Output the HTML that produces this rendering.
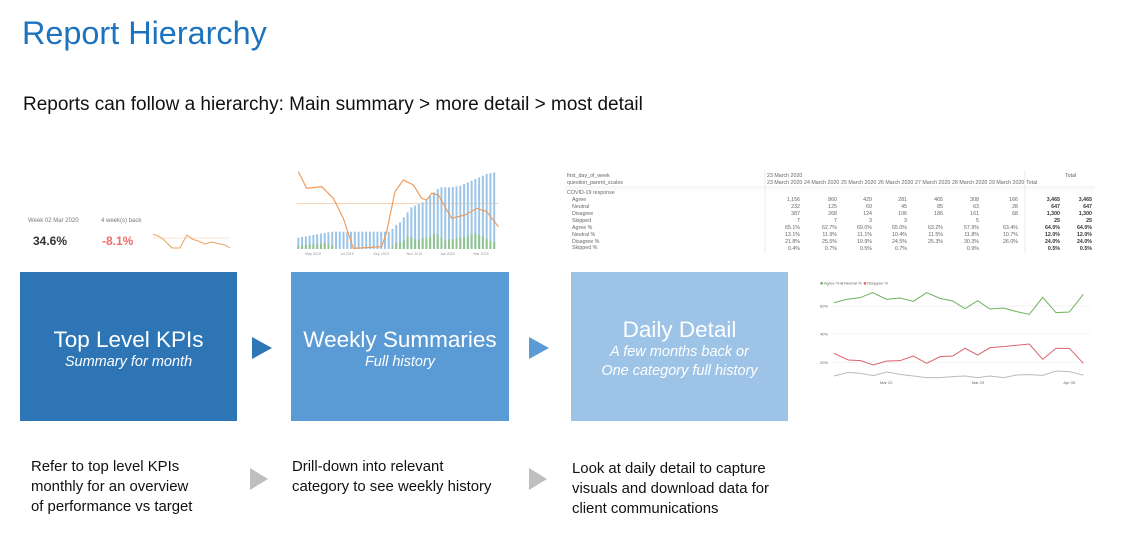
<!DOCTYPE html>
<html><head><meta charset="utf-8"><style>
body{margin:0;width:1127px;height:545px;background:#fff;position:relative;overflow:hidden;font-family:"Liberation Sans",sans-serif}
.a{position:absolute;white-space:nowrap}
.box{position:absolute;color:#fff;text-align:center;display:flex;flex-direction:column;justify-content:center;box-sizing:border-box;padding-top:5px}
.box b{font-weight:normal;font-size:22.5px}
.box i{font-size:14.5px;line-height:19px}
.t{position:absolute;font-size:5.3px;color:#666;white-space:nowrap}
.desc{position:absolute;font-size:14.9px;line-height:20px;color:#111}
</style></head><body>
<div class="a" style="left:22px;top:15px;font-size:32.4px;color:#1e73be">Report Hierarchy</div>
<div class="a" style="left:23px;top:94px;font-size:19px;color:#111">Reports can follow a hierarchy: Main summary &gt; more detail &gt; most detail</div>

<div class="a" style="left:28px;top:218px;font-size:6px;color:#777">Week 02 Mar 2020</div>
<div class="a" style="left:33px;top:234px;font-size:12px;font-weight:bold;color:#333">34.6%</div>
<div class="a" style="left:101px;top:218px;font-size:6px;color:#777">4 week(s) back</div>
<div class="a" style="left:102px;top:234px;font-size:12px;font-weight:bold;color:#f06a6a">-8.1%</div>
<svg class="a" style="left:150px;top:230px" width="85" height="22"><line x1="3" y1="8" x2="80" y2="8" stroke="#f5c9a0" stroke-width=".6"/><polyline fill="none" stroke="#e9a25f" stroke-width="1" points="3,4 8,6 13,9 18,14 22,18 30,18 33,12 37,5 42,9 48,11 55,14 62,12 70,14 75,15 80,18"/></svg>

<svg class="a" style="left:285px;top:165px" width="225" height="95" viewBox="0 0 675 285">
<line x1="35" y1="115" x2="640" y2="115" stroke="#f2b98a" stroke-width="2"/>
<g id="bars"></g>
<polyline fill="none" stroke="#ef9a5a" stroke-width="3.5" points="40,20 65,70 110,65 145,100 175,160 205,250 290,245 305,200 330,80 355,45 385,60 410,100 425,105 440,85 460,90 500,160 540,150 575,130 605,140 640,185"/>
<g font-size="11" fill="#999"><text x="60" y="270">May 2019</text><text x="165" y="270">Jul 2019</text><text x="265" y="270">Sep 2019</text><text x="365" y="270">Nov 2019</text><text x="465" y="270">Jan 2020</text><text x="565" y="270">Mar 2020</text></g>
</svg>
<script>
(function(){var g=document.getElementById('bars'),s='';
var b=[34,36,38,40,42,44,46,48,50,52,52,52,52,52,52,52,52,52,52,52,52,52,52,52,52,60,72,80,95,110,125,130,135,140,150,160,170,180,185,185,185,186,188,190,195,200,205,210,215,220,225,228,230];
var gr=[10,10,12,14,14,15,16,18,14,10,0,0,0,0,0,0,0,0,0,0,0,0,0,0,0,10,18,20,25,38,35,30,28,32,32,36,46,44,35,25,28,30,32,34,36,40,44,46,42,38,30,25,20];
for(var i=0;i<b.length;i++){var x=37+i*11.3;s+='<rect x="'+x+'" y="'+(252-b[i])+'" width="6" height="'+b[i]+'" fill="#9cc5e8"/>';if(gr[i])s+='<rect x="'+x+'" y="'+(252-gr[i])+'" width="6" height="'+gr[i]+'" fill="#8fc48f"/>';}
g.innerHTML=s;})();
</script>

<div id="tbl"></div>
<svg class="a" style="left:565px;top:165px" width="530" height="95">
<line x1="0" y1="22" x2="530" y2="22" stroke="#ddd" stroke-width=".6"/>
<line x1="0" y1="24" x2="530" y2="24" stroke="#eee" stroke-width=".6"/>
<line x1="200" y1="5" x2="200" y2="88" stroke="#ddd" stroke-width=".6"/>
<line x1="460" y1="5" x2="460" y2="88" stroke="#ddd" stroke-width=".6"/>
</svg>
<script>
(function(){var rows=[['first_day_of_week',176],['question_parent_scales',183],['COVID-19 response',193],['  Agree',200],['  Neutral',207],['  Disagree',214],['  Skipped',221],['  Agree %',228],['  Neutral %',235],['  Disagree %',242],['  Skipped %',248]];
var d=[['1,156','860','429','281','465','308','166','3,465','3,465'],['232','125','69','45','85','63','28','647','647'],['387','268','124','106','186','161','68','1,300','1,300'],['7','7','3','3','','5','','25','25'],['65.1%','62.7%','69.0%','65.0%','63.2%','57.9%','63.4%','64.0%','64.0%'],['13.1%','11.9%','11.1%','10.4%','11.5%','11.8%','10.7%','12.0%','12.0%'],['21.8%','25.5%','19.9%','24.5%','25.3%','30.3%','26.0%','24.0%','24.0%'],['0.4%','0.7%','0.5%','0.7%','','0.9%','','0.5%','0.5%']];
var xr=[800,837,872,907,943,979,1018,1060,1092],h='';
rows.forEach(function(r){h+='<div class="t" style="left:'+(r[0][0]==' '?572:567)+'px;top:'+(r[1]-3)+'px">'+r[0].trim()+'</div>';});
var hd=['23 March 2020','24 March 2020','25 March 2020','26 March 2020','27 March 2020','28 March 2020','29 March 2020','Total'];
hd.forEach(function(t,i){h+='<div class="t" style="left:'+(767+i*37)+'px;top:180px">'+t+'</div>';});
h+='<div class="t" style="left:767px;top:173px">23 March 2020</div><div class="t" style="left:1065px;top:173px">Total</div>';
d.forEach(function(r,j){r.forEach(function(v,i){h+='<div class="t" style="right:'+(1127-xr[i])+'px;top:'+(197+j*7)+'px;'+(i>6?'font-weight:bold;color:#333':'')+'">'+v+'</div>';});});
document.getElementById('tbl').innerHTML=h;})();
</script>

<svg class="a" style="left:790px;top:270px" width="305" height="120" viewBox="0 0 915 360">
<g font-size="12" fill="#666"><circle cx="95" cy="40" r="4" fill="#6db25a"/><text x="102" y="44">Agree %</text><circle cx="155" cy="40" r="4" fill="#aaa"/><text x="162" y="44">Neutral %</text><circle cx="225" cy="40" r="4" fill="#d66"/><text x="232" y="44">Disagree %</text>
<text x="90" y="112">60%</text><text x="90" y="196">40%</text><text x="90" y="282">20%</text>
<text x="270" y="342">Mar 22</text><text x="545" y="342">Mar 29</text><text x="820" y="342">Apr 05</text></g>
<g stroke="#eee" stroke-width="2"><line x1="125" y1="108" x2="900" y2="108"/><line x1="125" y1="192" x2="900" y2="192"/><line x1="125" y1="278" x2="900" y2="278"/></g>
<polyline fill="none" stroke="#6db25a" stroke-width="3" points="132,98 170,88 210,83 248,68 290,88 330,84 370,94 410,68 450,85 488,93 525,116 563,92 600,117 640,114 680,125 718,133 758,82 798,128 838,126 880,73"/>
<polyline fill="none" stroke="#d9626a" stroke-width="3" points="132,250 175,270 212,272 250,285 290,273 330,272 370,258 410,280 450,260 488,258 525,235 563,255 600,233 640,230 718,222 758,268 798,235 838,235 880,280"/>
<polyline fill="none" stroke="#bbb" stroke-width="3" points="132,318 175,307 212,310 250,317 290,306 330,313 370,318 410,323 450,323 488,320 525,318 563,323 600,318 640,323 680,315 718,314 758,316 798,303 838,305 880,315"/>
</svg>

<div class="box" style="left:20px;top:272px;width:217px;height:149px;background:#2e75b6"><b>Top Level KPIs</b><i>Summary for month</i></div>
<div class="box" style="left:291px;top:272px;width:218px;height:149px;background:#5b9bd5"><b>Weekly Summaries</b><i>Full history</i></div>
<div class="box" style="left:571px;top:272px;width:217px;height:149px;background:#9dc3e6"><b>Daily Detail</b><i>A few months back or<br>One category full history</i></div>
<svg class="a" style="left:252px;top:337px" width="20" height="22"><polygon points="0,0 20,11 0,22" fill="#2e75b6"/></svg>
<svg class="a" style="left:529px;top:337px" width="20" height="22"><polygon points="0,0 20,11 0,22" fill="#5b9bd5"/></svg>
<svg class="a" style="left:250px;top:468px" width="18" height="22"><polygon points="0,0 18,11 0,22" fill="#bfbfbf"/></svg>
<svg class="a" style="left:529px;top:468px" width="18" height="22"><polygon points="0,0 18,11 0,22" fill="#bfbfbf"/></svg>

<div class="desc" style="left:31px;top:457px">Refer to top level KPIs<br>monthly for an overview<br>of performance vs target</div>
<div class="desc" style="left:292px;top:457px">Drill-down into relevant<br>category to see weekly history</div>
<div class="desc" style="left:572px;top:459px">Look at daily detail to capture<br>visuals and download data for<br>client communications</div>
</body></html>
